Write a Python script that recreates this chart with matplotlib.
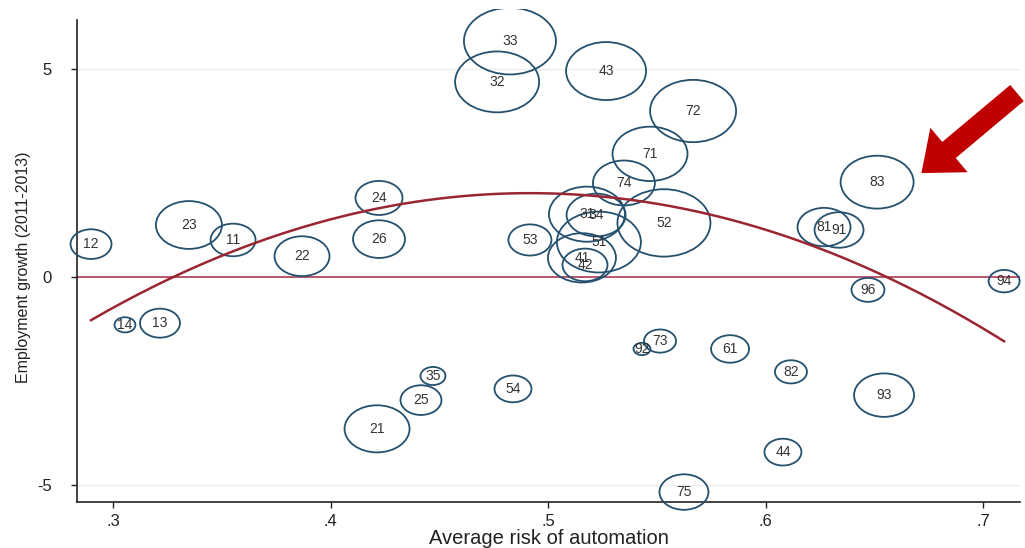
import numpy as np
import matplotlib
matplotlib.use("Agg")
import matplotlib.pyplot as plt
from matplotlib.path import Path
from matplotlib.markers import MarkerStyle
from matplotlib.patches import FancyArrow
from matplotlib.transforms import Bbox, TransformedBbox

plt.rcParams["font.family"] = ["Liberation Sans", "DejaVu Sans"]

# Occupation groups (ISCO 2-digit codes)
occupation = ["12", "23", "11", "22", "24", "26", "13", "14",
              "35", "25", "21", "54", "92", "73", "61", "82",
              "93", "44", "75", "33", "32", "43", "72", "71",
              "74", "53", "52", "31", "34", "51", "41", "42",
              "83", "81", "91", "96", "94"]

# Average risk of automation per occupation
risk = [0.2899, 0.3349, 0.3552, 0.3869, 0.4223, 0.4223, 0.3216, 0.3055,
        0.4471, 0.4416, 0.4214, 0.4839, 0.5432, 0.5515, 0.5837, 0.6117,
        0.6545, 0.6080, 0.5625, 0.4825, 0.4766, 0.5267, 0.5667, 0.5469,
        0.5349, 0.4917, 0.5533, 0.5179, 0.5221, 0.5234, 0.5156, 0.5170,
        0.6513, 0.6269, 0.6338, 0.6471, 0.7097]

# Employment growth 2011-2013 (%)
growth = [0.79, 1.25, 0.89, 0.50, 1.90, 0.91, -1.11, -1.15,
          -2.38, -2.96, -3.65, -2.69, -1.73, -1.54, -1.73, -2.28,
          -2.84, -4.21, -5.17, 5.67, 4.69, 4.95, 3.99, 2.96,
          2.26, 0.89, 1.30, 1.51, 1.49, 0.84, 0.46, 0.29,
          2.28, 1.20, 1.13, -0.31, -0.10]

# Employment weight of each occupation (bubble area)
weight = [4.20, 10.89, 5.06, 7.56, 5.52, 6.76, 4.00, 1.10,
          1.56, 4.20, 10.56, 3.42, 0.72, 2.56, 3.61, 2.56,
          9.00, 3.42, 6.00, 21.16, 17.64, 16.00, 18.49, 14.06,
          9.61, 4.62, 21.62, 14.44, 8.70, 17.64, 11.56, 5.06,
          13.32, 7.02, 6.00, 2.72, 2.40]

# Quadratic fit: growth = b0 + b1*risk + b2*risk^2
fit_coef = [-16.11, 73.72, -74.96]

x_ticks = [0.3, 0.4, 0.5, 0.6, 0.7]
x_ticklabels = [".3", ".4", ".5", ".6", ".7"]
y_ticks = [-5, 0, 5]
y_ticklabels = ["-5", "0", "5"]

W, H = 1025, 548
fig = plt.figure(figsize=(W / 100, H / 100), dpi=100)
fig.patch.set_facecolor("white")

ax = fig.add_axes([77 / W, 46 / H, (1020 - 77) / W, (502 - 9) / H])
ax.set_xlim(0.28345, 0.7170)
ax.set_ylim(-5.409, 6.442)

# light horizontal grid
for yt in y_ticks:
    ax.axhline(yt, color="#ececec", lw=1.0, zorder=0)
ax.axhline(0, color="#b24a60", lw=1.3, zorder=1)

# hollow bubbles, drawn slightly wider than tall
ell = Path.unit_circle()
ell = Path(ell.vertices * np.array([1.38, 1.0]), ell.codes)
marker = MarkerStyle(ell)
bubble_scale = 14.4  # points per sqrt(weight)
sizes = (bubble_scale ** 2) * np.asarray(weight)
bubbles = ax.scatter(risk, growth, s=sizes, marker=marker, facecolors="none",
                     edgecolors="#25506e", linewidths=1.3, zorder=3)
# bubbles may spill over the axis lines; only the top edge clips them
bubbles.set_clip_box(TransformedBbox(Bbox([[0, 0], [1, (H - 9) / H]]),
                                     fig.transFigure))

for code, xv, yv in zip(occupation, risk, growth):
    ax.text(xv, yv, code, ha="center", va="center", fontsize=10,
            color="#333333", zorder=4)

# fitted quadratic over the observed range
xs = np.linspace(min(risk), max(risk), 300)
ys = fit_coef[0] + fit_coef[1] * xs + fit_coef[2] * xs ** 2
ax.plot(xs, ys, color="#9a2632", lw=1.8, zorder=5)

for side in ["top", "right"]:
    ax.spines[side].set_visible(False)
ax.spines["left"].set_bounds(-5.409, 6.178)
for side in ["left", "bottom"]:
    ax.spines[side].set_color("#222222")
    ax.spines[side].set_linewidth(1.2)

ax.set_xticks(x_ticks)
ax.set_xticklabels(x_ticklabels)
ax.set_yticks(y_ticks)
ax.set_yticklabels(y_ticklabels)
ax.tick_params(axis="both", direction="out", length=4, width=1.0,
               colors="#222222", labelsize=12, pad=5)
ax.tick_params(axis="y", pad=14)

ax.set_xlabel("Average risk of automation", fontsize=14.5, color="#222222",
              labelpad=0)
ax.set_ylabel("Employment growth (2011-2013)", fontsize=11.5, color="#222222")
ax.yaxis.set_label_coords(-0.049, 0.477)

# red pointer arrow, drawn in pixel coordinates
over = fig.add_axes([0, 0, 1, 1], facecolor="none")
over.set_xlim(0, W)
over.set_ylim(H, 0)
over.axis("off")
over.add_patch(FancyArrow(1017, 93, -68, 57, width=21, head_width=58,
                          head_length=36, length_includes_head=False,
                          color="#c00000", lw=0))

fig.savefig("out.png", dpi=100, facecolor="white")
